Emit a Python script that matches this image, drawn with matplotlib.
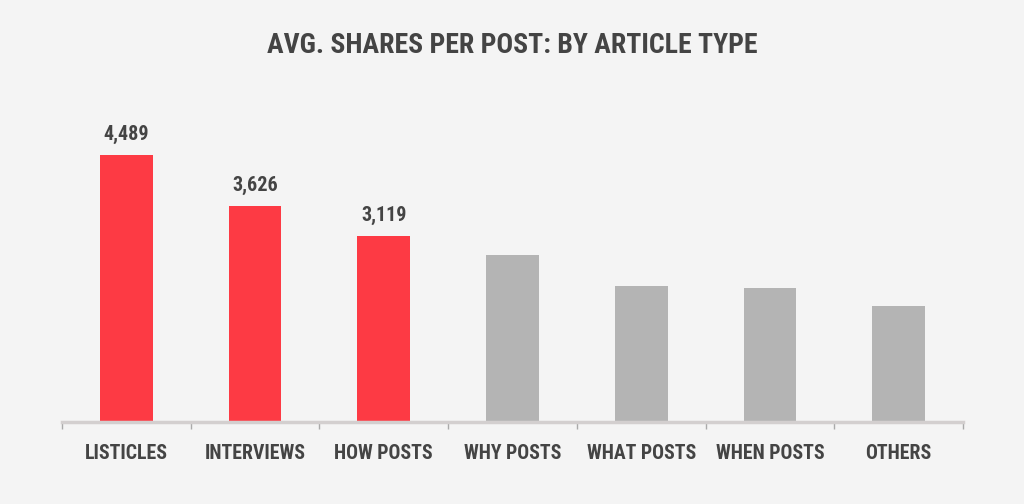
import matplotlib.pyplot as plt
from matplotlib import font_manager

categories = ['LISTICLES', 'INTERVIEWS', 'HOW POSTS', 'WHY POSTS',
              'WHAT POSTS', 'WHEN POSTS', 'OTHERS']
shares = [4489, 3626, 3119, 2808, 2287, 2253, 1950]
labelled = [True, True, True, False, False, False, False]

names = {f.name for f in font_manager.fontManager.ttflist}
fam = ['Roboto Condensed', 'Liberation Sans Narrow', 'Roboto', 'DejaVu Sans']
fam = [f for f in fam if f in names] or ['DejaVu Sans']
plt.rcParams['font.family'] = fam

bg = '#f4f4f4'
red = '#fd3a44'
gray = '#b4b4b4'
txt = '#444444'

fig = plt.figure(figsize=(10.24, 5.04), dpi=100, facecolor=bg)
ax = fig.add_axes([0.0605, 0.1627, 0.88, 0.64])
ax.set_facecolor(bg)

x = range(len(categories))
colors = [red if l else gray for l in labelled]
bars = ax.bar(x, shares, width=0.41, color=colors, zorder=2)
for b, v, l in zip(bars, shares, labelled):
    if l:
        ax.text(b.get_x() + b.get_width() / 2, v + 180, f'{v:,}',
                ha='center', va='bottom', fontsize=14.5, fontweight='bold', color=txt)

ax.set_xlim(-0.5, len(categories) - 0.5)
ax.set_ylim(0, max(shares) * 1.206)
for s in ['top', 'right', 'left']:
    ax.spines[s].set_visible(False)
ax.spines['bottom'].set_color('#d3cfcf')
ax.spines['bottom'].set_linewidth(2.5)
ax.set_yticks([])
# separators between categories, labels centred on bars
ax.set_xticks([i - 0.5 for i in range(len(categories) + 1)])
ax.set_xticklabels([])
ax.tick_params(axis='x', which='major', length=5, color='#aaaaaa', width=1)
ax.set_xticks(list(x), minor=True)
ax.set_xticklabels(categories, minor=True)
ax.tick_params(axis='x', which='minor', length=0, pad=16, labelsize=14.2, labelcolor=txt)
for t in ax.get_xticklabels(minor=True):
    t.set_fontweight('bold')

fig.text(0.5, 0.91, 'AVG. SHARES PER POST: BY ARTICLE TYPE', ha='center', va='center',
         fontsize=20, fontweight='bold', color=txt)

fig.savefig('out.png', dpi=100, facecolor=bg)
